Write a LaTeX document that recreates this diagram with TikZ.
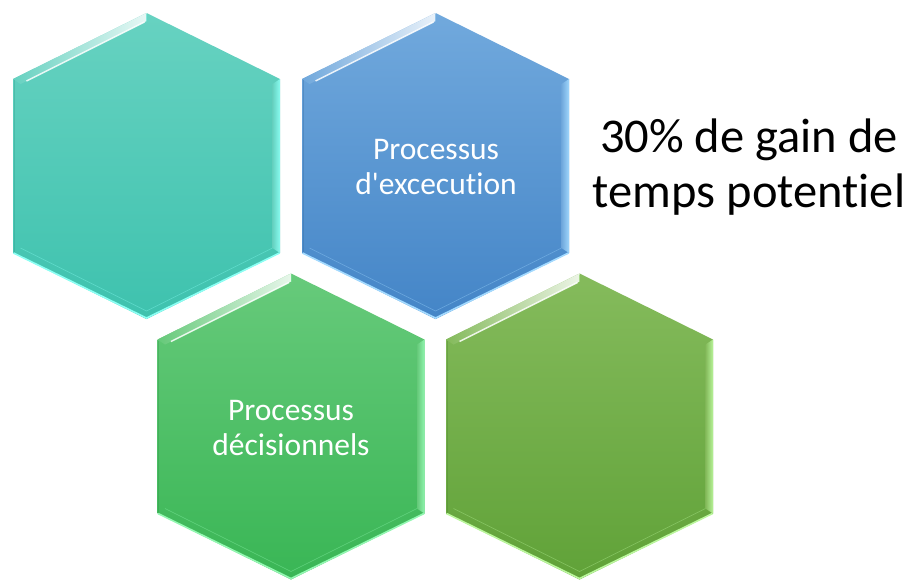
\documentclass[tikz,border=0pt]{standalone}
\usepackage{fontspec}
\setmainfont{Carlito}[Ligatures={TeX,NoCommon}]
\definecolor{tealT}{HTML}{67D2C1}
\definecolor{tealB}{HTML}{3EC2AE}
\definecolor{tealL}{HTML}{8CFFF4}
\definecolor{blueT}{HTML}{71A9DD}
\definecolor{blueB}{HTML}{4485C7}
\definecolor{blueL}{HTML}{A3DAFF}
\definecolor{greenT}{HTML}{67CA7B}
\definecolor{greenB}{HTML}{39B655}
\definecolor{greenL}{HTML}{93F8B2}
\definecolor{oliveT}{HTML}{85BB5C}
\definecolor{oliveB}{HTML}{60A238}
\definecolor{oliveL}{HTML}{BBF79D}
\newcommand{\myhex}[3]{%
  \begin{scope}[shift={(#1,#2)}]
    \shade[top color=#3T, bottom color=#3B]
      (0,-153) -- (133.5,-87) -- (133.5,87) -- (0,153) -- (-133.5,87) -- (-133.5,-87) -- cycle;
    % upper-left bevel
    \shade[left color=#3T, right color=white, opacity=0.85]
      (-133.5,-87) -- (0,-153) -- (0,-145) -- (-126,-82) -- cycle;
    \draw[white, line width=1.4pt, opacity=0.85] (-120,-85) -- (-2,-144);
    % right bevel
    \shade[left color=#3T, right color=#3L, opacity=0.95]
      (133.5,-87) -- (133.5,87) -- (126,82) -- (126,-82) -- cycle;
    % left edge darker line
    \draw[#3B!80!black, line width=0.8pt, opacity=0.35] (-132.5,-86) -- (-132.5,86);
    % lower edges light
    \draw[#3L, line width=1.6pt] (-133,87) -- (0,152) -- (133,87);
    \draw[#3L!60!#3B, line width=0.6pt, opacity=0.7] (-126,82) -- (0,145) -- (126,82);
    \draw[#3L!60!#3B, line width=0.6pt, opacity=0.7] (0,-145) -- (0,-152);
  \end{scope}}
\tikzset{hextext/.style={text=white, font=\fontsize{31.5}{35}\selectfont, align=center},
         bigtext/.style={text=black, font=\fontsize{48.5}{55}\selectfont, align=center}}
\begin{document}
\begin{tikzpicture}[x=1pt,y=-1pt]
\useasboundingbox (0,0) rectangle (909,579);
\fill[white] (0,0) rectangle (909,579);
\myhex{146.5}{166}{teal}
\myhex{435.5}{166}{blue}
\myhex{291}{426.5}{green}
\myhex{579.5}{426.5}{olive}
\node[hextext] (exec) at (436,167) {Processus\\d\textquotesingle excecution};
\node[hextext] (dec) at (291,428) {Processus\\décisionnels};
\node[bigtext] (gain) at (749,167) {30\% de gain de\\temps potentiel};
\end{tikzpicture}
\end{document}
